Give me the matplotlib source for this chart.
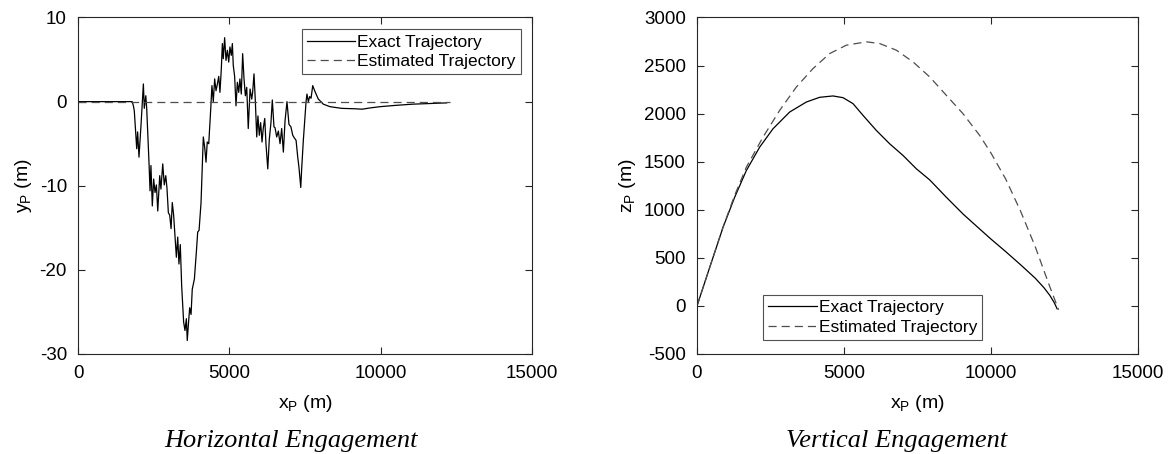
import matplotlib
matplotlib.use("Agg")
import matplotlib.pyplot as plt

# ---- data (metres) ----
# horizontal engagement: exact y_P vs x_P
h_exact_x = [0, 1790, 1830, 1860, 1940, 1970, 2015, 2080, 2160, 2190, 2240, 2270,
             2350, 2380, 2410, 2455, 2500, 2545, 2590, 2635, 2700, 2740, 2800, 2850,
             2900, 2940, 2985, 3030, 3075, 3115, 3160, 3205, 3250, 3295, 3335, 3380,
             3425, 3490, 3535, 3580, 3610, 3645, 3690, 3735, 3775, 3845, 3910, 3955,
             4000, 4065, 4140, 4185, 4230, 4270, 4320, 4385, 4425, 4470, 4515, 4560,
             4600, 4650, 4690, 4735, 4770, 4800, 4845, 4890, 4935, 4980, 5020, 5065,
             5100, 5130, 5175, 5220, 5265, 5310, 5350, 5395, 5440, 5485, 5530, 5575,
             5625, 5685, 5740, 5770, 5815, 5860, 5905, 5945, 5990, 6035, 6080, 6120,
             6170, 6210, 6270, 6320, 6375, 6420, 6475, 6510, 6565, 6620, 6675, 6730,
             6785, 6840, 6905, 6970, 7035, 7095, 7145, 7205, 7260, 7300, 7360, 7390,
             7445, 7500, 7535, 7565, 7610, 7655, 7700, 7755, 7830, 7940, 8105, 8325,
             8710, 9150, 9385, 9650, 9980, 10475, 11070, 11630, 12180]
h_exact_y = [0.0, 0.0, -0.5, -1.1, -5.6, -3.6, -6.6, -2.9, 2.1, -0.8, 0.7, -0.8,
             -7.6, -10.6, -7.6, -12.4, -9.2, -10.8, -9.9, -13.0, -8.8, -10.4, -7.4, -9.9,
             -8.8, -10.3, -13.2, -13.5, -15.1, -12.0, -13.5, -16.1, -18.5, -16.1, -19.3, -17.0,
             -21.9, -26.2, -27.2, -25.8, -28.4, -26.6, -24.5, -25.3, -22.3, -21.1, -17.9, -15.5,
             -15.3, -12.0, -4.2, -5.4, -7.2, -4.8, -5.0, -0.9, 1.9, 0.0, 2.7, 1.3,
             2.0, 3.0, 1.1, 3.9, 6.9, 5.1, 7.6, 4.9, 6.1, 4.7, 6.5, 5.5,
             6.9, 4.3, 3.0, -0.5, 2.3, 1.1, 2.7, 0.9, 5.7, 2.7, 0.7, 1.7,
             -3.2, 1.5, 0.3, 1.1, 3.3, 0.0, -4.2, -1.7, -4.0, -2.5, -4.8, -3.2,
             -2.0, -5.0, -8.0, -4.5, -2.5, 0.2, -3.0, -3.1, -4.2, -3.5, -5.0, -3.2,
             -6.0, -2.3, 0.0, -2.7, -3.0, -4.0, -4.3, -4.6, -6.6, -7.8, -10.2, -8.0,
             -4.6, -1.7, 0.0, 0.9, 0.0, 0.6, 0.4, 1.9, 1.2, 0.3, -0.3, -0.6,
             -0.8, -0.85, -0.9, -0.75, -0.6, -0.45, -0.3, -0.22, -0.15]
# horizontal engagement: estimated trajectory
h_est_x = [0, 12300]
h_est_y = [0, 0]

# vertical engagement: z_P vs x_P
v_exact_x = [0, 431, 885, 1281, 1678, 2132, 2586, 3153, 3720, 4173, 4627, 4967,
             5307, 5647, 6101, 6555, 7008, 7462, 7915, 8482, 9049, 9616, 10000,
             10500, 11000, 11500, 11800, 12000, 12150, 12250]
v_exact_z = [0, 400, 817, 1130, 1408, 1652, 1843, 2017, 2121, 2170, 2184, 2166,
             2104, 1982, 1825, 1686, 1565, 1426, 1311, 1130, 956, 800, 695,
             565, 430, 290, 190, 110, 35, -30]
v_est_x = [0, 431, 885, 1281, 1678, 2245, 2812, 3379, 3946, 4513, 5080, 5760,
           6214, 6781, 7348, 7915, 8482, 9049, 9616, 10000, 10500, 11000, 11500,
           12000, 12300]
v_est_z = [0, 400, 820, 1150, 1443, 1756, 2034, 2277, 2469, 2625, 2712, 2747,
           2729, 2660, 2538, 2382, 2190, 1999, 1773, 1590, 1320, 990, 620,
           200, -40]

captions = ["Horizontal Engagement", "Vertical Engagement"]

plt.rcParams['font.family'] = ['Liberation Sans', 'DejaVu Sans']
plt.rcParams['mathtext.fontset'] = 'custom'
plt.rcParams['mathtext.rm'] = 'Liberation Sans'
plt.rcParams['axes.unicode_minus'] = False

axis_col = '#262626'
dash_col = '#4d4d4d'

fig = plt.figure(figsize=(11.72, 4.54), dpi=100)
ax1 = fig.add_axes([78 / 1172, 100 / 454, 454 / 1172, 336.5 / 454])
ax2 = fig.add_axes([697 / 1172, 100 / 454, 441 / 1172, 336.5 / 454])

ax1.plot(h_exact_x, h_exact_y, color='black', lw=0.9, label='Exact Trajectory')
ax1.plot(h_est_x, h_est_y, color=dash_col, lw=0.9, dashes=(6.5, 4),
         label='Estimated Trajectory')
ax1.set_xlim(0, 15000)
ax1.set_ylim(-30, 10)
ax1.set_yticks([-30, -20, -10, 0, 10])
ax1.set_ylabel(r'$\mathregular{y_P}$ (m)', fontsize=14)

ax2.plot(v_exact_x, v_exact_z, color='black', lw=0.9, label='Exact Trajectory')
ax2.plot(v_est_x, v_est_z, color=dash_col, lw=0.9, dashes=(6.5, 4),
         label='Estimated Trajectory')
ax2.set_xlim(0, 15000)
ax2.set_ylim(-500, 3000)
ax2.set_yticks(range(-500, 3001, 500))
ax2.set_ylabel(r'$\mathregular{z_P}$ (m)', fontsize=14)

for ax in (ax1, ax2):
    ax.set_xticks([0, 5000, 10000, 15000])
    ax.set_xlabel(r'$\mathregular{x_P}$ (m)', fontsize=14, labelpad=8)
    ax.tick_params(direction='in', top=True, right=True, length=5, width=0.8,
                   labelsize=13.5, colors=axis_col, labelcolor='black', pad=8)
    for s in ax.spines.values():
        s.set_color(axis_col)
        s.set_linewidth(0.8)

leg_kw = dict(fontsize=12.5, frameon=True, fancybox=False, borderaxespad=0,
              handlelength=2.8, handletextpad=0.1, borderpad=0.3, labelspacing=0.25)
l1 = ax1.legend(loc='upper right', bbox_to_anchor=(0.975, 0.965), **leg_kw)
l2 = ax2.legend(loc='lower left', bbox_to_anchor=(0.15, 0.042), **leg_kw)
for lg in (l1, l2):
    lg.get_frame().set_edgecolor(axis_col)
    lg.get_frame().set_linewidth(0.8)

fig.text(291 / 1172, 1 - 441 / 454, captions[0], family='Liberation Serif',
         style='italic', fontsize=19, ha='center', va='center')
fig.text(897 / 1172, 1 - 441 / 454, captions[1], family='Liberation Serif',
         style='italic', fontsize=19, ha='center', va='center')

fig.savefig('out.png', dpi=100)
